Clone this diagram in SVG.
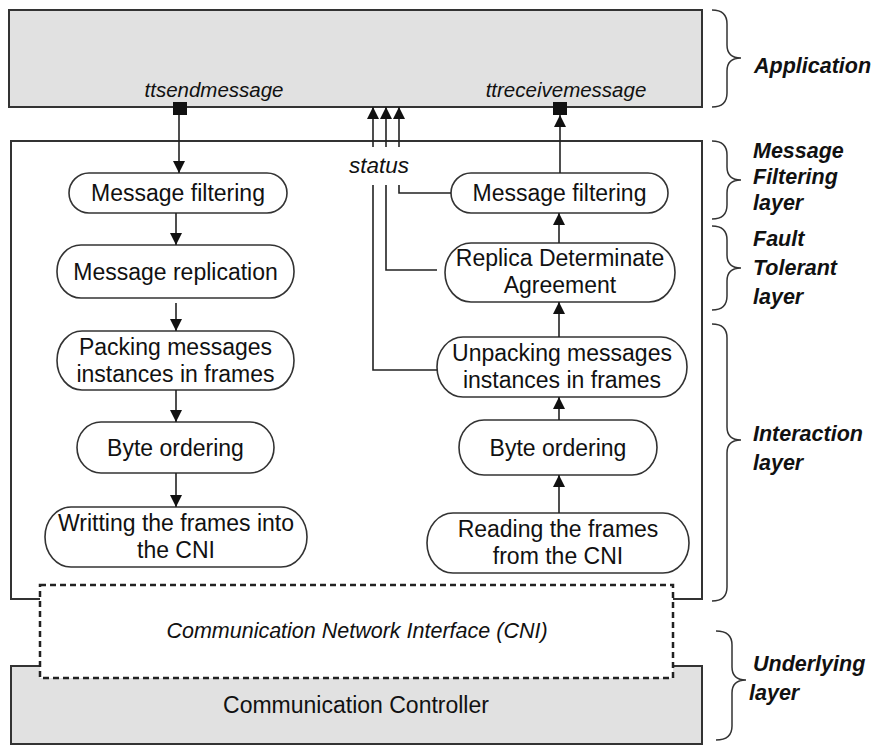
<svg xmlns="http://www.w3.org/2000/svg" width="877" height="747" viewBox="0 0 877 747">
<defs>
<marker id="arr" markerUnits="userSpaceOnUse" markerWidth="14" markerHeight="14" refX="12" refY="6" orient="auto">
<path d="M0,0 L12,6 L0,12 z" fill="#111"/>
</marker>
<style>
.box{fill:#fff;stroke:#333;stroke-width:1.6}
.t{font-family:"Liberation Sans",Arial,sans-serif;font-size:23px;fill:#111;text-anchor:middle}
.it{font-family:"Liberation Sans",Arial,sans-serif;font-style:italic;fill:#111;text-anchor:middle}
.lay{font-family:"Liberation Sans",Arial,sans-serif;font-style:italic;font-weight:bold;font-size:21.5px;fill:#111}
.brace{fill:none;stroke:#333;stroke-width:1.5}
.frame{fill:none;stroke:#333;stroke-width:2}
.c{fill:none;stroke:#222;stroke-width:1.6}
.ca{fill:none;stroke:#222;stroke-width:1.6;marker-end:url(#arr)}
</style>
</defs>
<rect width="877" height="747" fill="#fff"/>

<g id="application">
<rect x="9" y="10" width="693" height="97" fill="#e1e1e1" stroke="#333" stroke-width="2"/>
<text class="it" x="214" y="97" font-size="20.5">ttsendmessage</text>
<text class="it" x="566" y="97" font-size="20.5">ttreceivemessage</text>
<rect x="173" y="102" width="14" height="13" fill="#111"/>
<rect x="553" y="102" width="14" height="13" fill="#111"/>
</g>

<g id="middleware">
<path class="frame" d="M40 599 L11 599 L11 141 L702 141 L702 599 L673 599"/>
</g>

<g id="controller">
<rect x="11" y="666" width="691" height="78" fill="#e1e1e1"/>
<path class="frame" d="M40 666 L11 666 L11 744 L702 744 L702 666 L673 666"/>
<text class="t" x="356" y="713" font-size="22">Communication Controller</text>
</g>

<g id="cni">
<rect x="40" y="585" width="633" height="93" fill="#fff" stroke="#222" stroke-width="2.5" stroke-dasharray="6,4"/>
<text class="it" x="357" y="638" font-size="21.5">Communication Network Interface (CNI)</text>
</g>

<g id="status">
<text class="it" x="379" y="173" font-size="22.5">status</text>
</g>

<g id="l1"><rect class="box" x="69" y="173" width="218" height="40" rx="20" ry="20"/><text class="t" x="178" y="201">Message filtering</text></g>
<g id="l2"><rect class="box" x="57" y="245" width="237" height="53" rx="24" ry="26"/><text class="t" x="175.5" y="280">Message replication</text></g>
<g id="l3"><rect class="box" x="57" y="331" width="237" height="59" rx="25" ry="29.5"/><text class="t" x="175.5" y="355">Packing messages</text><text class="t" x="175.5" y="382">instances in frames</text></g>
<g id="l4"><rect class="box" x="77" y="422" width="197" height="51" rx="24" ry="25.5"/><text class="t" x="175.5" y="456">Byte ordering</text></g>
<g id="l5"><rect class="box" x="45" y="507" width="262" height="60" rx="26" ry="30"/><text class="t" x="176" y="531">Writting the frames into</text><text class="t" x="176" y="558">the CNI</text></g>

<g id="r1"><rect class="box" x="451" y="173" width="217" height="40" rx="20" ry="20"/><text class="t" x="559.5" y="201">Message filtering</text></g>
<g id="r2"><rect class="box" x="445" y="243" width="230" height="59" rx="26" ry="29.5"/><text class="t" x="560" y="266">Replica Determinate</text><text class="t" x="560" y="293">Agreement</text></g>
<g id="r3"><rect class="box" x="437" y="337" width="250" height="60" rx="26" ry="30"/><text class="t" x="562" y="361">Unpacking messages</text><text class="t" x="562" y="388">instances in frames</text></g>
<g id="r4"><rect class="box" x="459" y="420" width="198" height="55" rx="25" ry="27.5"/><text class="t" x="558" y="456">Byte ordering</text></g>
<g id="r5"><rect class="box" x="427" y="513" width="262" height="60" rx="26" ry="30"/><text class="t" x="558" y="537">Reading the frames</text><text class="t" x="558" y="564">from the CNI</text></g>

<g id="connectors">
<path class="ca" d="M179 115 V173"/>
<path class="ca" d="M176 213 V245"/>
<path class="ca" d="M176 303 V331"/>
<path class="ca" d="M176 390 V422"/>
<path class="ca" d="M176 473 V507"/>
<path class="ca" d="M560 173 V115"/>
<path class="ca" d="M559 243 V213"/>
<path class="ca" d="M559 337 V302"/>
<path class="ca" d="M559 420 V397"/>
<path class="ca" d="M559 513 V475"/>
<path class="ca" d="M373 147 V107"/>
<path class="ca" d="M386 147 V107"/>
<path class="ca" d="M399 147 V107"/>
<path class="c" d="M373 185 V370 H437"/>
<path class="c" d="M386 185 V270 H437"/>
<path class="c" d="M399 185 V193 H451"/>
</g>

<g id="layers">
<path class="brace" d="M712 10 Q727 10 727 24 L727 45 Q727 58 741 58 Q727 58 727 71 L727 93 Q727 107 712 107"/>
<text class="lay" x="754" y="73">Application</text>
<path class="brace" d="M712 141 Q727 141 727 155 L727 167 Q727 180 741 180 Q727 180 727 193 L727 205 Q727 219 712 219"/>
<text class="lay" x="753" y="158">Message</text>
<text class="lay" x="753" y="184">Filtering</text>
<text class="lay" x="753" y="210">layer</text>
<path class="brace" d="M712 226 Q727 226 727 240 L727 255 Q727 268 741 268 Q727 268 727 281 L727 296 Q727 310 712 310"/>
<text class="lay" x="753" y="246">Fault</text>
<text class="lay" x="753" y="275">Tolerant</text>
<text class="lay" x="753" y="304">layer</text>
<path class="brace" d="M712 324 Q727 324 727 338 L727 427 Q727 440 741 440 Q727 440 727 453 L727 587 Q727 601 712 601"/>
<text class="lay" x="753" y="441">Interaction</text>
<text class="lay" x="753" y="470">layer</text>
<path class="brace" d="M716 631 Q732 631 732 645 L732 667 Q732 680 746 680 Q732 680 732 693 L732 726 Q732 740 716 740"/>
<text class="lay" x="753" y="671">Underlying</text>
<text class="lay" x="749" y="700">layer</text>
</g>
</svg>
